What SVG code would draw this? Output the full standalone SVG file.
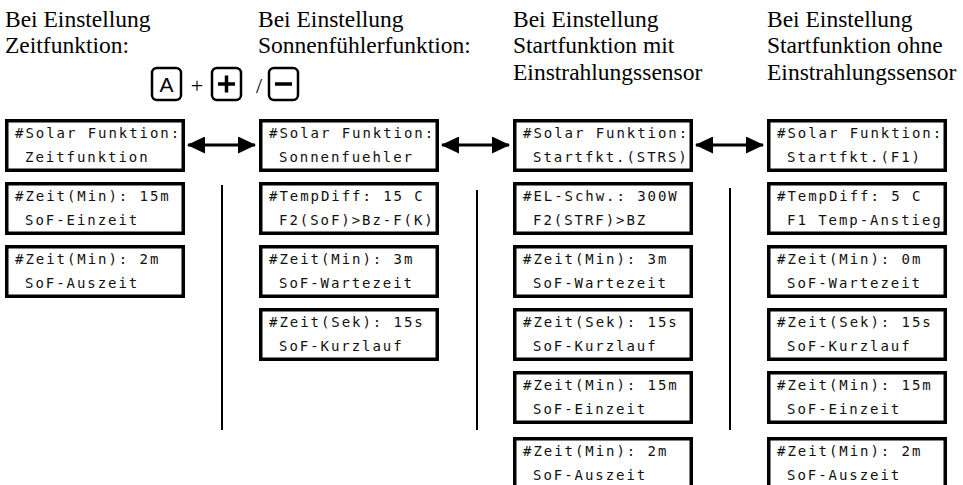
<svg xmlns="http://www.w3.org/2000/svg" width="963" height="485" viewBox="0 0 963 485">
<style>
.hd{font-family:"Liberation Serif","Times New Roman",serif;font-size:23.5px;fill:#000}
.box{fill:#fff;stroke:#000;stroke-width:3.5}
.lcd{font-family:"DejaVu Sans Mono","Liberation Mono",monospace;font-size:14px;letter-spacing:1.95px;fill:#111}
.btn{fill:#fff;stroke:#000;stroke-width:2.5}
.sym{stroke:#000;stroke-width:3.5;fill:none}
.conn{stroke:#000;stroke-width:2.8;fill:none}
.vl{stroke:#000;stroke-width:2;fill:none}
</style>
<defs>
<marker id="ah" viewBox="0 0 18 17" refX="17" refY="8.5" markerWidth="18" markerHeight="17" markerUnits="userSpaceOnUse" orient="auto-start-reverse">
<path d="M0,0 L18,8.5 L0,17 Z" fill="#000"/>
</marker>
</defs>
<rect width="963" height="485" fill="#fff"/>

<g id="headers">
<text class="hd" x="5" y="27">Bei Einstellung</text>
<text class="hd" x="5" y="53">Zeitfunktion:</text>
<text class="hd" x="258" y="27">Bei Einstellung</text>
<text class="hd" x="258" y="53">Sonnenfühlerfunktion:</text>
<text class="hd" x="513" y="27">Bei Einstellung</text>
<text class="hd" x="513" y="53">Startfunktion mit</text>
<text class="hd" x="513" y="80">Einstrahlungssensor</text>
<text class="hd" x="767" y="27">Bei Einstellung</text>
<text class="hd" x="767" y="53">Startfunktion ohne</text>
<text class="hd" x="767" y="80">Einstrahlungssensor</text>
</g>

<g id="buttons">
<rect class="btn" x="152" y="68" width="29" height="32" rx="5"/>
<text x="166.5" y="92" text-anchor="middle" font-family="Liberation Sans, Arial, sans-serif" font-size="21">A</text>
<text x="197" y="93" text-anchor="middle" font-family="Liberation Serif, serif" font-size="22">+</text>
<rect class="btn" x="212" y="68" width="29" height="32" rx="5"/>
<path class="sym" d="M218,84 H235 M226.5,75.5 V92.5"/>
<text x="259" y="93" text-anchor="middle" font-family="Liberation Serif, serif" font-size="22">/</text>
<rect class="btn" x="269" y="68" width="29" height="32" rx="5"/>
<path class="sym" d="M275,84 H292"/>
</g>

<g id="col1">
<g id="c1r1"><rect class="box" x="6.75" y="120.75" width="176.5" height="49.5"/><text class="lcd" x="15" y="138">#Solar Funktion:</text><text class="lcd" x="25" y="162">Zeitfunktion</text></g>
<g id="c1r2"><rect class="box" x="6.75" y="183.75" width="176.5" height="49.5"/><text class="lcd" x="15" y="201">#Zeit(Min): 15m</text><text class="lcd" x="25" y="225">SoF-Einzeit</text></g>
<g id="c1r3"><rect class="box" x="6.75" y="246.75" width="176.5" height="49.5"/><text class="lcd" x="15" y="264">#Zeit(Min): 2m</text><text class="lcd" x="25" y="288">SoF-Auszeit</text></g>
</g>

<g id="col2">
<g id="c2r1"><rect class="box" x="260.75" y="120.75" width="176.5" height="49.5"/><text class="lcd" x="269" y="138">#Solar Funktion:</text><text class="lcd" x="279" y="162">Sonnenfuehler</text></g>
<g id="c2r2"><rect class="box" x="260.75" y="183.75" width="176.5" height="49.5"/><text class="lcd" x="269" y="201">#TempDiff: 15 C</text><text class="lcd" x="279" y="225">F2(SoF)&gt;Bz-F(K)</text></g>
<g id="c2r3"><rect class="box" x="260.75" y="246.75" width="176.5" height="49.5"/><text class="lcd" x="269" y="264">#Zeit(Min): 3m</text><text class="lcd" x="279" y="288">SoF-Wartezeit</text></g>
<g id="c2r4"><rect class="box" x="260.75" y="309.75" width="176.5" height="49.5"/><text class="lcd" x="269" y="327">#Zeit(Sek): 15s</text><text class="lcd" x="279" y="351">SoF-Kurzlauf</text></g>
</g>

<g id="col3">
<g id="c3r1"><rect class="box" x="514.75" y="120.75" width="176.5" height="49.5"/><text class="lcd" x="523" y="138">#Solar Funktion:</text><text class="lcd" x="533" y="162">Startfkt.(STRS)</text></g>
<g id="c3r2"><rect class="box" x="514.75" y="183.75" width="176.5" height="49.5"/><text class="lcd" x="523" y="201">#EL-Schw.: 300W</text><text class="lcd" x="533" y="225">F2(STRF)&gt;BZ</text></g>
<g id="c3r3"><rect class="box" x="514.75" y="246.75" width="176.5" height="49.5"/><text class="lcd" x="523" y="264">#Zeit(Min): 3m</text><text class="lcd" x="533" y="288">SoF-Wartezeit</text></g>
<g id="c3r4"><rect class="box" x="514.75" y="309.75" width="176.5" height="49.5"/><text class="lcd" x="523" y="327">#Zeit(Sek): 15s</text><text class="lcd" x="533" y="351">SoF-Kurzlauf</text></g>
<g id="c3r5"><rect class="box" x="514.75" y="372.75" width="176.5" height="49.5"/><text class="lcd" x="523" y="390">#Zeit(Min): 15m</text><text class="lcd" x="533" y="414">SoF-Einzeit</text></g>
<g id="c3r6"><rect class="box" x="514.75" y="438.75" width="176.5" height="49.5"/><text class="lcd" x="523" y="456">#Zeit(Min): 2m</text><text class="lcd" x="533" y="480">SoF-Auszeit</text></g>
</g>

<g id="col4">
<g id="c4r1"><rect class="box" x="768.75" y="120.75" width="176.5" height="49.5"/><text class="lcd" x="777" y="138">#Solar Funktion:</text><text class="lcd" x="787" y="162">Startfkt.(F1)</text></g>
<g id="c4r2"><rect class="box" x="768.75" y="183.75" width="176.5" height="49.5"/><text class="lcd" x="777" y="201">#TempDiff: 5 C</text><text class="lcd" x="787" y="225">F1 Temp-Anstieg</text></g>
<g id="c4r3"><rect class="box" x="768.75" y="246.75" width="176.5" height="49.5"/><text class="lcd" x="777" y="264">#Zeit(Min): 0m</text><text class="lcd" x="787" y="288">SoF-Wartezeit</text></g>
<g id="c4r4"><rect class="box" x="768.75" y="309.75" width="176.5" height="49.5"/><text class="lcd" x="777" y="327">#Zeit(Sek): 15s</text><text class="lcd" x="787" y="351">SoF-Kurzlauf</text></g>
<g id="c4r5"><rect class="box" x="768.75" y="372.75" width="176.5" height="49.5"/><text class="lcd" x="777" y="390">#Zeit(Min): 15m</text><text class="lcd" x="787" y="414">SoF-Einzeit</text></g>
<g id="c4r6"><rect class="box" x="768.75" y="438.75" width="176.5" height="49.5"/><text class="lcd" x="777" y="456">#Zeit(Min): 2m</text><text class="lcd" x="787" y="480">SoF-Auszeit</text></g>
</g>

<g id="connectors">
<line class="conn" x1="188" y1="145" x2="255" y2="145" marker-start="url(#ah)" marker-end="url(#ah)"/>
<line class="conn" x1="442" y1="145" x2="509" y2="145" marker-start="url(#ah)" marker-end="url(#ah)"/>
<line class="conn" x1="696" y1="145" x2="763" y2="145" marker-start="url(#ah)" marker-end="url(#ah)"/>
<line class="vl" x1="222" y1="185" x2="222" y2="430"/>
<line class="vl" x1="477" y1="190" x2="477" y2="430"/>
<line class="vl" x1="730" y1="188" x2="730" y2="430"/>
</g>
</svg>
